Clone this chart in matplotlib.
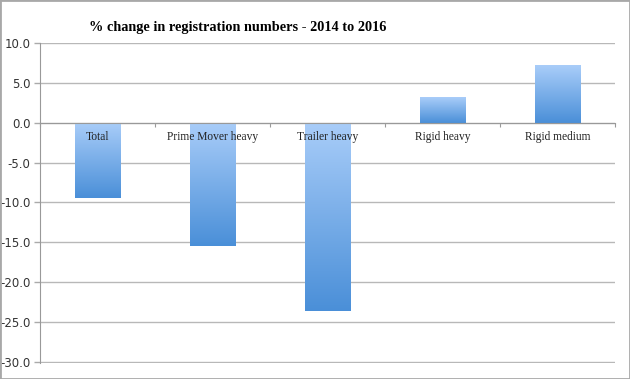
import numpy as np
import matplotlib.pyplot as plt
from matplotlib.patches import Rectangle

categories = ["Total", "Prime Mover heavy", "Trailer heavy", "Rigid heavy", "Rigid medium"]
pct_change = [-9.5, -15.5, -23.6, 3.2, 7.2]
yticks = [10.0, 5.0, 0.0, -5.0, -10.0, -15.0, -20.0, -25.0, -30.0]

fig = plt.figure(figsize=(6.3, 3.79), dpi=100)
fig.patch.set_facecolor("white")
ax = fig.add_axes([40/630, 1 - 363/379, 575/630, 320/379])

x = np.arange(len(categories))
bars = ax.bar(x, pct_change, width=0.4, color="none", edgecolor="none", zorder=2)

# vertical gradient inside each bar: light on top, darker below
grad = np.linspace(0, 1, 256).reshape(-1, 1)
cmap = plt.matplotlib.colors.LinearSegmentedColormap.from_list("bl", ["#a9cdf9", "#4a8fd8"])
for b in bars:
    x0, w = b.get_x(), b.get_width()
    y0, h = b.get_y(), b.get_height()
    lo, hi = min(y0, y0 + h), max(y0, y0 + h)
    im = ax.imshow(grad, cmap=cmap, aspect="auto", extent=[x0, x0 + w, lo, hi],
                   origin="upper", zorder=2)
    im.set_clip_path(b)

ax.set_xlim(-0.5, len(categories) - 0.5)
ax.set_ylim(-30.15, 10)
ax.set_yticks(yticks)
ax.set_yticklabels([f"{v:.1f}" for v in yticks], fontsize=8.5, color="#333333")
ax.tick_params(axis="y", length=4, color="#aaaaaa", width=1, pad=3)

ax.spines["top"].set_visible(False)
ax.spines["right"].set_visible(False)
ax.spines["left"].set_color("#999999")
ax.spines["bottom"].set_position(("data", 0))
ax.spines["bottom"].set_color("#999999")
ax.set_xticks(np.arange(-0.5, len(categories), 1.0))
ax.set_xticklabels([])
ax.tick_params(axis="x", length=3, color="#999999", direction="out")

ax.set_axisbelow(True)
ax.grid(axis="y", color="#b8b8b8", linewidth=1)

for i, name in enumerate(categories):
    ax.text(i, -1.0, name, ha="center", va="top", fontsize=8.3,
            family="Liberation Serif", color="#222222", zorder=5)

fig.text(238/630, 1 - 27/379, "% change in registration numbers - 2014 to 2016",
         ha="center", va="center", fontsize=10.3, fontweight="bold", family="Liberation Serif")

fig.add_artist(Rectangle((0, 0), 1, 1, transform=fig.transFigure, fill=False,
                         edgecolor="#a8a8a8", linewidth=2))

fig.savefig("out.png", dpi=100)
